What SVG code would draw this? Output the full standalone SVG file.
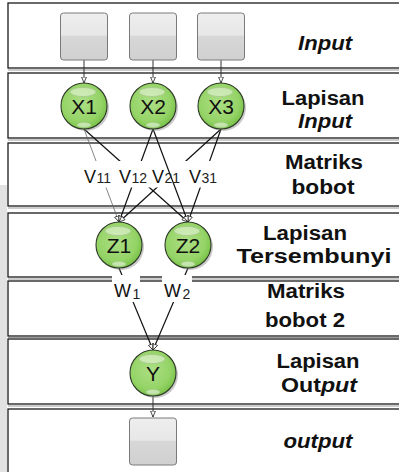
<svg xmlns="http://www.w3.org/2000/svg" width="399" height="472" viewBox="0 0 399 472">
  <style>
    .band { fill: #ffffff; stroke: #1a1a1a; stroke-width: 1.3; }
    .under { stroke: #9a9a9a; stroke-width: 1.2; }
    .cap { font-family: "Liberation Sans", Arial, sans-serif; font-weight: bold; font-size: 20px; fill: #111; text-anchor: middle; }
    .it { font-style: italic; }
    .box { fill: url(#boxFill); stroke: #7a7a7a; stroke-width: 1; }
    .ball { fill: url(#ballFill); stroke: #2e3a26; stroke-width: 1.1; }
    .shade { fill: #8a8a8a; opacity: 0.45; }
    .hi { fill: #ffffff; fill-opacity: 0.45; stroke: #9fbf8a; stroke-width: 0.6; }
    .lo { fill: #ffffff; fill-opacity: 0.5; stroke: #a6c493; stroke-width: 0.5; }
    .nlabel { font-family: "Liberation Sans", Arial, sans-serif; font-size: 21px; fill: #111; text-anchor: middle; }
    .feed { stroke: #333; stroke-width: 1; fill: none; marker-end: url(#arr); }
    .edge { stroke: #111; stroke-width: 1.2; fill: none; marker-end: url(#arr); }
    .thin { stroke: #666; stroke-width: 0.8; fill: none; marker-end: url(#arr); }
    .wt { font-family: "Liberation Sans", Arial, sans-serif; fill: #111; }
    .big { font-size: 18px; }
    .sub { font-size: 14px; fill: #222; }
  </style>
  <defs>
    <radialGradient id="ballFill" cx="0.45" cy="0.42" r="0.62">
      <stop offset="0" stop-color="#addf85"/>
      <stop offset="0.7" stop-color="#94d366"/>
      <stop offset="1" stop-color="#72bf42"/>
    </radialGradient>
    <linearGradient id="boxFill" x1="0" y1="0" x2="0" y2="1">
      <stop offset="0" stop-color="#eeeeee"/>
      <stop offset="0.47" stop-color="#e7e7e7"/>
      <stop offset="0.5" stop-color="#d7d7d7"/>
      <stop offset="1" stop-color="#d0d0d0"/>
    </linearGradient>
    <marker id="arr" viewBox="0 0 7 6" refX="6.5" refY="3" markerWidth="7" markerHeight="6" markerUnits="userSpaceOnUse" orient="auto">
      <path d="M0.5,0.6 L6.5,3 L0.5,5.4 Z" fill="#ffffff" stroke="#222" stroke-width="0.8"/>
    </marker>
  </defs>

  <rect width="399" height="472" fill="#ffffff"/>
  <!-- faint margin strip on the left -->
  <rect x="0" y="185" width="7" height="287" fill="#e2e2e2"/>

  <!-- layer bands -->
  <g id="bands">
    <rect class="band" x="8" y="3" width="400" height="65"/>
    <line class="under" x1="8" y1="70" x2="399" y2="70"/>
    <rect class="band" x="8" y="73" width="400" height="65"/>
    <line class="under" x1="8" y1="140" x2="399" y2="140"/>
    <rect class="band" x="8" y="143" width="400" height="63"/>
    <line class="under" x1="8" y1="208" x2="399" y2="208"/>
    <rect class="band" x="8" y="213" width="400" height="64"/>
    <line class="under" x1="8" y1="279" x2="399" y2="279"/>
    <rect class="band" x="8" y="281" width="400" height="55"/>
    <line class="under" x1="8" y1="337.5" x2="399" y2="337.5"/>
    <rect class="band" x="8" y="339" width="400" height="65"/>
    <line class="under" x1="8" y1="406" x2="399" y2="406"/>
    <rect class="band" x="8" y="409" width="400" height="80"/>
  </g>

  <!-- band captions -->
  <g id="captions">
    <text class="cap it" x="325" y="50" textLength="54" lengthAdjust="spacingAndGlyphs">Input</text>
    <text class="cap" x="323" y="105" textLength="83" lengthAdjust="spacingAndGlyphs">Lapisan</text>
    <text class="cap it" x="325" y="128" textLength="54" lengthAdjust="spacingAndGlyphs">Input</text>
    <text class="cap" x="324" y="169" textLength="78" lengthAdjust="spacingAndGlyphs">Matriks</text>
    <text class="cap" x="323" y="194" textLength="63" lengthAdjust="spacingAndGlyphs">bobot</text>
    <text class="cap" x="305" y="240" textLength="84" lengthAdjust="spacingAndGlyphs">Lapisan</text>
    <text class="cap" x="314" y="263" textLength="155" lengthAdjust="spacingAndGlyphs">Tersembunyi</text>
    <text class="cap" x="306" y="298" textLength="78" lengthAdjust="spacingAndGlyphs">Matriks</text>
    <text class="cap" x="305" y="327" textLength="80" lengthAdjust="spacingAndGlyphs">bobot 2</text>
    <text class="cap" x="318" y="368" textLength="83" lengthAdjust="spacingAndGlyphs">Lapisan</text>
    <text class="cap" x="319" y="392" textLength="76" lengthAdjust="spacingAndGlyphs">Out<tspan class="it">put</tspan></text>
    <text class="cap it" x="318" y="448" textLength="69" lengthAdjust="spacingAndGlyphs">output</text>
  </g>

  <!-- connectors -->
  <g id="connectors">
    <line class="feed" x1="84" y1="60" x2="84" y2="83"/>
    <line class="feed" x1="153" y1="60" x2="153" y2="83"/>
    <line class="feed" x1="221" y1="60" x2="221" y2="83"/>

    <line class="thin" x1="84" y1="129" x2="119" y2="222"/>
    <line class="edge" x1="84" y1="129" x2="188" y2="222"/>
    <line class="edge" x1="153" y1="129" x2="119" y2="222"/>
    <line class="edge" x1="221" y1="129" x2="119" y2="222"/>
    <line class="edge" x1="221" y1="129" x2="188" y2="222"/>

    <!-- weight labels V -->
    <rect x="84" y="161" width="134" height="26.5" fill="#ffffff"/>
    <line class="edge" x1="153" y1="129" x2="188" y2="222"/>
    <text class="wt" x="84" y="182.5"><tspan class="big">V</tspan><tspan class="sub" dx="0.5">11</tspan></text>
    <text class="wt" x="119" y="182.5"><tspan class="big">V</tspan><tspan class="sub" dx="0.5">12</tspan></text>
    <text class="wt" x="152" y="182.5"><tspan class="big">V</tspan><tspan class="sub" dx="0.5">21</tspan></text>
    <text class="wt" x="189" y="182.5"><tspan class="big">V</tspan><tspan class="sub" dx="0.5">31</tspan></text>

    <line class="edge" x1="119" y1="268" x2="153" y2="350"/>
    <line class="edge" x1="188" y1="268" x2="153" y2="350"/>
    <!-- weight labels W -->
    <rect x="112" y="275" width="28" height="27" fill="#ffffff"/>
    <rect x="162" y="275" width="30" height="27" fill="#ffffff"/>
    <text class="wt" x="114" y="297"><tspan class="big">W</tspan><tspan class="sub" dx="1.5" dy="1.5">1</tspan></text>
    <text class="wt" x="164" y="297"><tspan class="big">W</tspan><tspan class="sub" dx="1.5" dy="1.5">2</tspan></text>

    <line class="feed" x1="153" y1="396" x2="153" y2="417"/>
  </g>

  <!-- input boxes -->
  <g id="in1"><rect class="box" x="60.5" y="13" width="47" height="47" rx="3"/></g>
  <g id="in2"><rect class="box" x="129.5" y="13" width="47" height="47" rx="3"/></g>
  <g id="in3"><rect class="box" x="197.5" y="13" width="47" height="47" rx="3"/></g>

  <!-- neurons -->
  <g id="x1" transform="translate(84,106)">
    <circle class="shade" cx="2" cy="2" r="23"/>
    <circle class="ball" r="23"/>
    <ellipse class="hi" cx="-1" cy="-14" rx="13" ry="4.5"/>
    <ellipse class="lo" cx="0" cy="19" rx="7" ry="2.5"/>
    <text class="nlabel" y="7.5">X1</text>
  </g>
  <g id="x2" transform="translate(153,106)">
    <circle class="shade" cx="2" cy="2" r="23"/>
    <circle class="ball" r="23"/>
    <ellipse class="hi" cx="-1" cy="-14" rx="13" ry="4.5"/>
    <ellipse class="lo" cx="0" cy="19" rx="7" ry="2.5"/>
    <text class="nlabel" y="7.5">X2</text>
  </g>
  <g id="x3" transform="translate(221,106)">
    <circle class="shade" cx="2" cy="2" r="23"/>
    <circle class="ball" r="23"/>
    <ellipse class="hi" cx="-1" cy="-14" rx="13" ry="4.5"/>
    <ellipse class="lo" cx="0" cy="19" rx="7" ry="2.5"/>
    <text class="nlabel" y="7.5">X3</text>
  </g>
  <g id="z1" transform="translate(119,245)">
    <circle class="shade" cx="2" cy="2" r="23"/>
    <circle class="ball" r="23"/>
    <ellipse class="hi" cx="-1" cy="-14" rx="13" ry="4.5"/>
    <ellipse class="lo" cx="0" cy="19" rx="7" ry="2.5"/>
    <text class="nlabel" y="7.5">Z1</text>
  </g>
  <g id="z2" transform="translate(188,245)">
    <circle class="shade" cx="2" cy="2" r="23"/>
    <circle class="ball" r="23"/>
    <ellipse class="hi" cx="-1" cy="-14" rx="13" ry="4.5"/>
    <ellipse class="lo" cx="0" cy="19" rx="7" ry="2.5"/>
    <text class="nlabel" y="7.5">Z2</text>
  </g>
  <g id="y" transform="translate(153,373)">
    <circle class="shade" cx="2" cy="2" r="23"/>
    <circle class="ball" r="23"/>
    <ellipse class="hi" cx="-1" cy="-14" rx="13" ry="4.5"/>
    <ellipse class="lo" cx="0" cy="19" rx="7" ry="2.5"/>
    <text class="nlabel" y="7.5">Y</text>
  </g>

  <!-- output box -->
  <g id="out1"><rect class="box" x="129.5" y="418" width="47" height="47" rx="3"/></g>
</svg>
